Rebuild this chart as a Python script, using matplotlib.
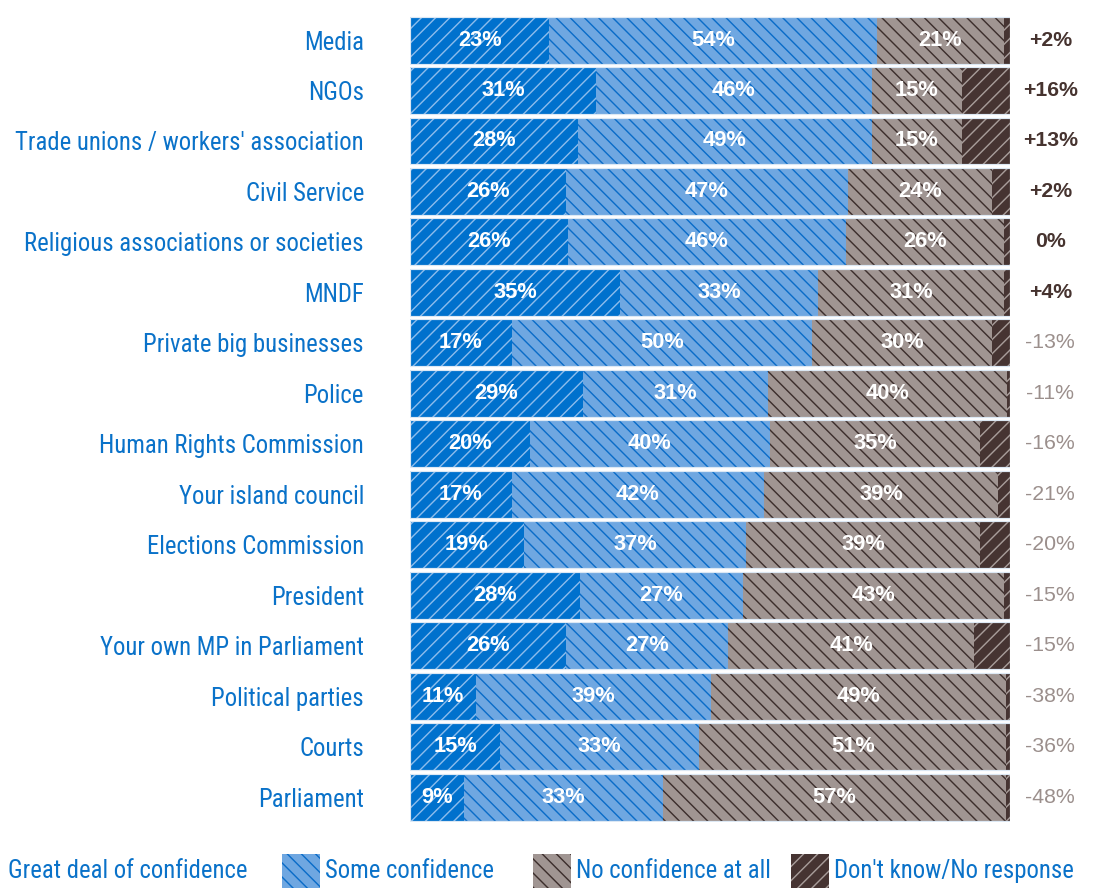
import matplotlib
matplotlib.use('Agg')
import matplotlib.pyplot as plt
from matplotlib.patches import Rectangle
import matplotlib.font_manager as fm

# survey: confidence in institutions
institutions = ['Media', 'NGOs', "Trade unions / workers' association", 'Civil Service',
                'Religious associations or societies', 'MNDF', 'Private big businesses',
                'Police', 'Human Rights Commission', 'Your island council',
                'Elections Commission', 'President', 'Your own MP in Parliament',
                'Political parties', 'Courts', 'Parliament']
great_deal = [23, 31, 28, 26, 26, 35, 17, 29, 20, 17, 19, 28, 26, 11, 15, 9]
some_conf = [54, 46, 49, 47, 46, 33, 50, 31, 40, 42, 37, 27, 27, 39, 33, 33]
no_conf = [21, 15, 15, 24, 26, 31, 30, 40, 35, 39, 39, 43, 41, 49, 51, 57]
dont_know = [1, 8, 8, 3, 1, 1, 3, 0.5, 5, 2, 5, 1, 6, 0.6, 0.6, 0.6]
net = [2, 16, 13, 2, 0, 4, -13, -11, -16, -21, -20, -15, -15, -38, -36, -48]

legend_labels = ['Great deal of confidence', 'Some confidence',
                 'No confidence at all', "Don't know/No response"]

BLUE_TXT = '#0a72c9'
fills = ['#0071cd', '#6fa7e1', '#a09592', '#463432']
hatch_cols = ['#8cbcec', '#0a6cc8', '#3c2e2c', '#a89d9a']
hatches = ['//', '\\\\', '\\\\', '//']

installed = {f.name for f in fm.fontManager.ttflist}
fam = [f for f in ['Roboto Condensed', 'Archivo Narrow', 'PT Sans Narrow',
                   'Liberation Sans Narrow'] if f in installed][:1]
plt.rcParams['font.family'] = fam + ['Liberation Sans', 'DejaVu Sans']
plt.rcParams['hatch.linewidth'] = 1.2
NUM_FONT = ['Liberation Sans', 'DejaVu Sans']

FS = 21
NFS = 18
DPI = 85
fig = plt.figure(figsize=(1097 / DPI, 888 / DPI), dpi=DPI)
ax = fig.add_axes([410 / 1097, 0.074, 600 / 1097, 0.9093])

series = [great_deal, some_conf, no_conf, dont_know]
ypos = list(range(len(institutions)))
for i, row in enumerate(ypos):
    total = sum(s[i] for s in series)
    left = 0
    for k, s in enumerate(series):
        w = s[i] / total * 100
        ax.barh(row, w, left=left, height=0.93, color=fills[k], edgecolor=hatch_cols[k],
                hatch=hatches[k], linewidth=0)
        if k < 3:
            ax.text(left + w / 2, row, f'{s[i]}%', ha='center', va='center',
                    color='white', fontsize=18.5, family=NUM_FONT, fontweight='bold')
        left += w
    ax.barh(row, 100, height=0.93, fill=False, edgecolor='#dce8f4', linewidth=1)

    v = net[i]
    txt = f'+{v}%' if v > 0 else f'{v}%'
    ax.text(106.7, row, txt, ha='center', va='center', fontsize=NFS, family=NUM_FONT,
            color='#46332f' if v >= 0 else '#9b8f8c',
            fontweight='bold' if v >= 0 else 'normal')

ax.set_xlim(0, 100)
ax.set_ylim(len(institutions) - 0.5, -0.5)
ax.set_yticks(ypos)
ax.set_yticklabels(institutions, color=BLUE_TXT, fontsize=FS)
ax.tick_params(axis='y', length=0, pad=39)
ax.set_xticks([])
for sp in ax.spines.values():
    sp.set_visible(False)

# legend along the bottom
fig.text(8 / 1097, 1 - 871 / 888, legend_labels[0], color=BLUE_TXT, fontsize=FS, va='center')
sw = [(282, 1), (533, 2), (791, 3)]
for x0, k in sw:
    fig.patches.append(Rectangle((x0 / 1097, 0), 38 / 1097, 34 / 888,
                                 transform=fig.transFigure, facecolor=fills[k],
                                 edgecolor=hatch_cols[k], hatch=hatches[k], linewidth=0))
    fig.text((x0 + 43) / 1097, 1 - 871 / 888, legend_labels[k], color=BLUE_TXT,
             fontsize=FS, va='center')

fig.savefig('out.png', dpi=DPI)
